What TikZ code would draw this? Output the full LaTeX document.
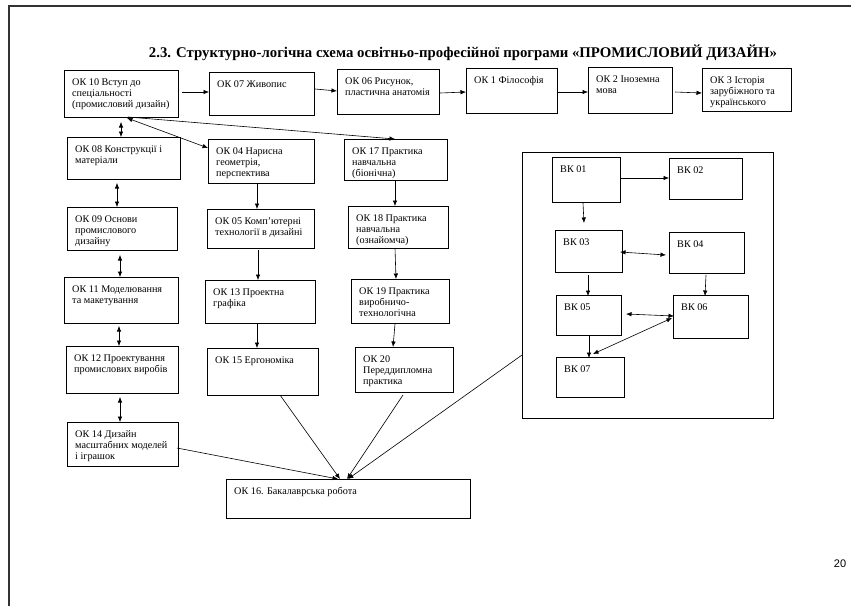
\documentclass[tikz,border=0pt]{standalone}
\usepackage{fontspec}
\setmainfont{Liberation Serif}
\newfontfamily\pgnumfont{Liberation Sans}
\usetikzlibrary{arrows.meta}
\definecolor{frame}{RGB}{51,51,51}
\newcommand{\bx}[6]{%
  \node[box, minimum width={(#4-#2)*1pt}, minimum height={(#5-#3)*1pt}] (#1) at (#2,#3) {};
  \node[txt] (#1t) at ([shift={(8,8)}]#1.north west) {\rule{0pt}{7.5pt}#6};
}
\begin{document}
\begin{tikzpicture}[x=1pt,y=-1pt,
  box/.style={draw=black, line width=1pt, inner sep=0pt, outer sep=0pt, anchor=north west},
  txt/.style={anchor=north west, inner sep=0pt, align=left, font=\fontsize{10.2}{11}\selectfont},
  tip/.tip={Latex[length=5.5pt,width=4.5pt]},
  arr/.style={line width=0.6pt, -tip},
  darr/.style={line width=0.6pt, tip-tip}
]
\useasboundingbox (0,0) rectangle (851,606);
\draw[line width=2pt, frame] (9,606) -- (9,6) -- (851,6);

\node[font=\bfseries\fontsize{14.8}{17}\selectfont] (title) at (463,53)
  {2.3. Структурно-логічна схема освітньо-професійної програми «ПРОМИСЛОВИЙ ДИЗАЙН»};
\node[font=\pgnumfont\fontsize{11}{13}\selectfont] (page) at (840,564) {20};

% top row
\bx{ok10}{64}{70}{178}{117}{ОК 10 Вступ до\\спеціальності\\(промисловий дизайн)}
\bx{ok07}{209}{72}{314}{115}{ОК 07 Живопис}
\bx{ok06}{337}{69}{439}{114}{ОК 06 Рисунок,\\пластична анатомія}
\bx{ok1}{466}{68}{557}{113}{ОК 1 Філософія}
\bx{ok2}{588}{67}{672}{113}{ОК 2 Іноземна\\мова}
\bx{ok3}{702}{68}{791}{111}{ОК 3 Історія\\зарубіжного та\\українського}
% left column
\bx{ok08}{67}{137}{180}{179}{ОК 08 Конструкції і\\матеріали}
\bx{ok09}{67}{207}{177}{250}{ОК 09 Основи\\промислового\\дизайну}
\bx{ok11}{64}{277}{178}{323}{ОК 11 Моделювання\\та макетування}
\bx{ok12}{66}{346}{178}{393}{ОК 12 Проектування\\промислових виробів}
\bx{ok14}{67}{422}{178}{466}{ОК 14 Дизайн\\масштабних моделей\\і іграшок}
% middle column
\bx{ok04}{208}{139}{314}{183}{ОК 04 Нарисна\\геометрія,\\перспектива}
\bx{ok05}{207}{209}{314}{248}{ОК 05 Комп’ютерні\\технології в дизайні}
\bx{ok13}{205}{280}{315}{323}{ОК 13 Проектна\\графіка}
\bx{ok15}{207}{348}{318}{395}{ОК 15 Ергономіка}
% third column
\bx{ok17}{344}{139}{447}{180}{ОК 17 Практика\\навчальна\\(біонічна)}
\bx{ok18}{348}{206}{448}{248}{ОК 18 Практика\\навчальна\\(ознайомча)}
\bx{ok19}{351}{279}{449}{323}{ОК 19 Практика\\виробничо-\\технологічна}
\bx{ok20}{355}{347}{453}{392}{ОК 20\\Переддипломна\\практика}
% bottom
\bx{ok16}{226}{479}{470}{518}{ОК 16. Бакалаврська робота}
% elective block
\node[box, minimum width=251pt, minimum height=266pt] (vk) at (522,152) {};
\bx{bk01}{552}{157}{620}{202}{ВК 01}
\bx{bk02}{669}{158}{742}{199}{ВК 02}
\bx{bk03}{555}{230}{622}{272}{ВК 03}
\bx{bk04}{669}{232}{744}{273}{ВК 04}
\bx{bk05}{556}{295}{621}{335}{ВК 05}
\bx{bk06}{673}{295}{748}{338}{ВК 06}
\bx{bk07}{556}{357}{624}{397}{ВК 07}

% top row arrows
\draw[arr] ([shift={(4,22)}]ok10.north east) -- ([shift={(0,20)}]ok07.north west);
\draw[arr] ([shift={(1,17)}]ok07.north east) -- ([shift={(0,22)}]ok06.north west);
\draw[arr] ([shift={(1,24)}]ok06.north east) -- ([shift={(0,24)}]ok1.north west);
\draw[arr] ([shift={(0,24)}]ok1.north east) -- ([shift={(0,25)}]ok2.north west);
\draw[arr] ([shift={(3,25)}]ok2.north east) -- ([shift={(0,25)}]ok3.north west);
% from ok10
\draw[darr] ([shift={(57,5)}]ok10.south west) -- ([shift={(54,0)}]ok08.north west);
\draw[darr] ([shift={(63,1)}]ok10.south west) -- ([shift={(0,9)}]ok04.north west);
\draw[arr] ([shift={(64,0)}]ok10.south west) -- ([shift={(51,0)}]ok17.north west);
% left column
\draw[darr] ([shift={(50,4)}]ok08.south west) -- ([shift={(50,0)}]ok09.north west);
\draw[darr] ([shift={(53,5)}]ok09.south west) -- ([shift={(56,0)}]ok11.north west);
\draw[darr] ([shift={(55,3)}]ok11.south west) -- ([shift={(53,0)}]ok12.north west);
\draw[darr] ([shift={(54,4)}]ok12.south west) -- ([shift={(53,0)}]ok14.north west);
% middle column
\draw[arr] ([shift={(49,0)}]ok04.south west) -- ([shift={(50,0)}]ok05.north west);
\draw[arr] ([shift={(51,2)}]ok05.south west) -- ([shift={(53,0)}]ok13.north west);
\draw[arr] ([shift={(52,1)}]ok13.south west) -- ([shift={(50,0)}]ok15.north west);
% third column
\draw[arr] ([shift={(51,1)}]ok17.south west) -- ([shift={(47,0)}]ok18.north west);
\draw[arr] ([shift={(47,0)}]ok18.south west) -- ([shift={(45,0)}]ok19.north west);
\draw[arr] ([shift={(44,1)}]ok19.south west) -- ([shift={(38,0)}]ok20.north west);
% to ok16
\draw[arr] ([shift={(-1,26)}]ok14.north east) -- ([shift={(112,0)}]ok16.north west);
\draw[arr] ([shift={(73,0)}]ok15.south west) -- ([shift={(114,0)}]ok16.north west);
\draw[arr] ([shift={(48,3)}]ok20.south west) -- ([shift={(121,0)}]ok16.north west);
\draw[arr] ([shift={(0,203)}]vk.north west) -- ([shift={(122,0)}]ok16.north west);
% elective arrows
\draw[arr] ([shift={(0,21)}]bk01.north east) -- ([shift={(0,20)}]bk02.north west);
\draw[arr] ([shift={(31,1)}]bk01.south west) -- ([shift={(29,-7)}]bk03.north west);
\draw[darr] ([shift={(-2,22)}]bk03.north east) -- ([shift={(-3,23)}]bk04.north west);
\draw[arr] ([shift={(33,3)}]bk03.south west) -- ([shift={(32,1)}]bk05.north west);
\draw[arr] ([shift={(37,2)}]bk04.south west) -- ([shift={(32,1)}]bk06.north west);
\draw[darr] ([shift={(5,19)}]bk05.north east) -- ([shift={(1,21)}]bk06.north west);
\draw[arr] ([shift={(33,1)}]bk05.south west) -- ([shift={(33,1)}]bk07.north west);
\draw[darr] ([shift={(-1,23)}]bk06.north west) -- ([shift={(37,-3)}]bk07.north west);
\end{tikzpicture}
\end{document}
